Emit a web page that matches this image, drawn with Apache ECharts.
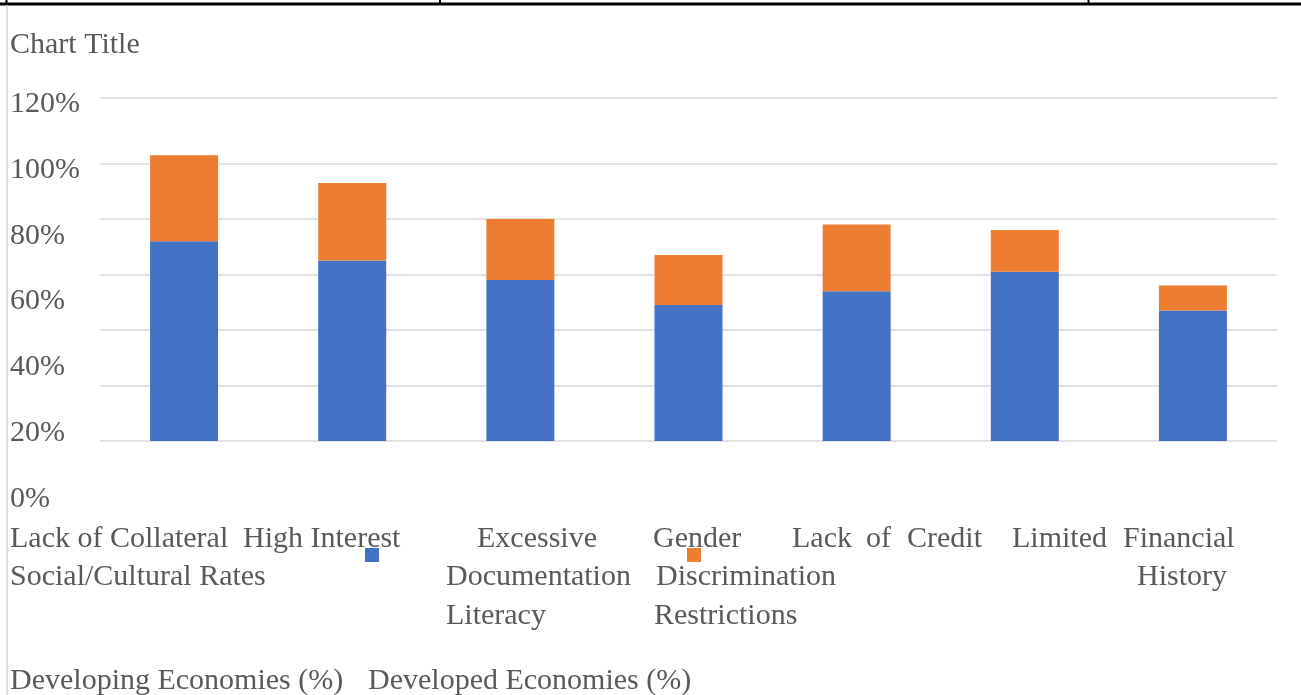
<!DOCTYPE html>
<html>
  <head>
    <meta charset="utf-8">
    <title>Chart Title</title>
    <style>
      html, body { margin: 0; padding: 0; background: #fff; }
    </style>
  </head>
  <body>
    <div id="main" style="width: 1301px;height:695px;"></div>

  <script src="https://cdn.jsdelivr.net/npm/echarts@6.0.0/dist/echarts.min.js" charset="utf-8"></script>
  <script type="text/javascript">
  // data
  var categories = ['Lack of Collateral', 'High Interest Rates', 'Excessive Documentation',
    'Gender Discrimination', 'Lack of Credit History', 'Limited Financial Literacy',
    'Social/Cultural Restrictions'];
  var developing = [72, 65, 58, 49, 54, 61, 47];
  var developed = [31, 28, 22, 18, 24, 15, 9];
  var seriesNames = ['Developing Economies (%)', 'Developed Economies (%)'];
  var gridValues = [0, 20, 40, 60, 80, 100, 123.6];
  var tickLabels = ['0%', '20%', '40%', '60%', '80%', '100%', '120%'];

  // the category text as it flowed in the source document
  var labelWords = [
    ['Lack of Collateral', 'High Interest', 'Excessive', 'Gender', 'Lack', 'of', 'Credit', 'Limited', 'Financial'],
    ['Social/Cultural Rates', 'Documentation', 'Discrimination', 'History'],
    ['Literacy', 'Restrictions']
  ];

  var font = '30px "Liberation Serif", "DejaVu Serif", serif';
  var grey = '#595959';
  var blue = '#4472c4', orange = '#ed7d31';

  // layout of the flowed words (left x of each word, centre y of each line)
  var wordX = [
    [10, 243, 477, 653, 792, 866, 907, 1012, 1123],
    [10, 446, 656, 1137],
    [446, 654]
  ];
  var lineY = [539, 577, 616];

  var graphics = [];
  function addText(str, x, y) {
    graphics.push({
      type: 'text', x: x, y: y, silent: true,
      style: { text: str, font: font, fill: grey, align: 'left', verticalAlign: 'middle' }
    });
  }
  addText('Chart Title', 10, 45);
  labelWords.forEach(function (line, i) {
    line.forEach(function (w, j) { addText(w, wordX[i][j], lineY[i]); });
  });
  addText(seriesNames[0], 10, 681);
  addText(seriesNames[1], 368, 681);

  // page borders around the chart
  graphics.push({ type: 'line', silent: true, shape: { x1: 0, y1: 4, x2: 1301, y2: 4 },
    style: { stroke: '#000', lineWidth: 3 } });
  [6.5, 440, 1088.5].forEach(function (x) {
    graphics.push({ type: 'line', silent: true, shape: { x1: x, y1: 0, x2: x, y2: 5 },
      style: { stroke: '#000', lineWidth: 2 } });
  });
  graphics.push({ type: 'line', silent: true, shape: { x1: 7, y1: 5, x2: 7, y2: 695 },
    style: { stroke: '#d4d4d4', lineWidth: 1.5 } });

  var myChart = echarts.init(document.getElementById('main'));

  var option = {
    animation: false,
    textStyle: { fontFamily: '"Liberation Serif", serif' },
    legend: [
      { data: [seriesNames[0]], left: 365, top: 548, padding: 0, icon: 'rect',
        itemWidth: 14, itemHeight: 14, selectedMode: false,
        formatter: function () { return ''; } },
      { data: [seriesNames[1]], left: 687, top: 548, padding: 0, icon: 'rect',
        itemWidth: 14, itemHeight: 14, selectedMode: false,
        formatter: function () { return ''; } }
    ],
    grid: [
      { left: 100, right: 24, top: 98, height: 343, containLabel: false },
      { left: 100, right: 24, top: 104, height: 395, containLabel: false }
    ],
    xAxis: [
      { type: 'category', gridIndex: 0, data: categories,
        axisLine: { show: false }, axisTick: { show: false }, axisLabel: { show: false } },
      { type: 'category', gridIndex: 1, data: categories, show: false }
    ],
    yAxis: [
      { type: 'value', gridIndex: 0, min: 0, max: gridValues[gridValues.length - 1],
        splitLine: { show: false }, axisLabel: { show: false },
        axisLine: { show: false }, axisTick: { show: false } },
      { type: 'value', gridIndex: 1, min: 0, max: 120, interval: 20,
        splitLine: { show: false }, axisLine: { show: false }, axisTick: { show: false },
        axisLabel: {
          align: 'left', margin: 90, color: grey, fontSize: 30,
          fontFamily: '"Liberation Serif", serif',
          formatter: function (v) { return tickLabels[v / 20]; }
        } }
    ],
    series: [
      {
        name: 'grid', type: 'line', data: [], z: 0, silent: true,
        markLine: {
          z: 1, silent: true, symbol: 'none', label: { show: false },
          lineStyle: { color: '#d9d9d9', width: 1.5, type: 'solid' },
          data: gridValues.map(function (v) { return { yAxis: v }; })
        }
      },
      { name: seriesNames[0], type: 'bar', stack: 'total', barWidth: 68, z: 3,
        itemStyle: { color: blue }, data: developing },
      { name: seriesNames[1], type: 'bar', stack: 'total', barWidth: 68, z: 3,
        itemStyle: { color: orange }, data: developed }
    ],
    graphic: graphics
  };
  myChart.setOption(option);
  </script>
  </body>
</html>
